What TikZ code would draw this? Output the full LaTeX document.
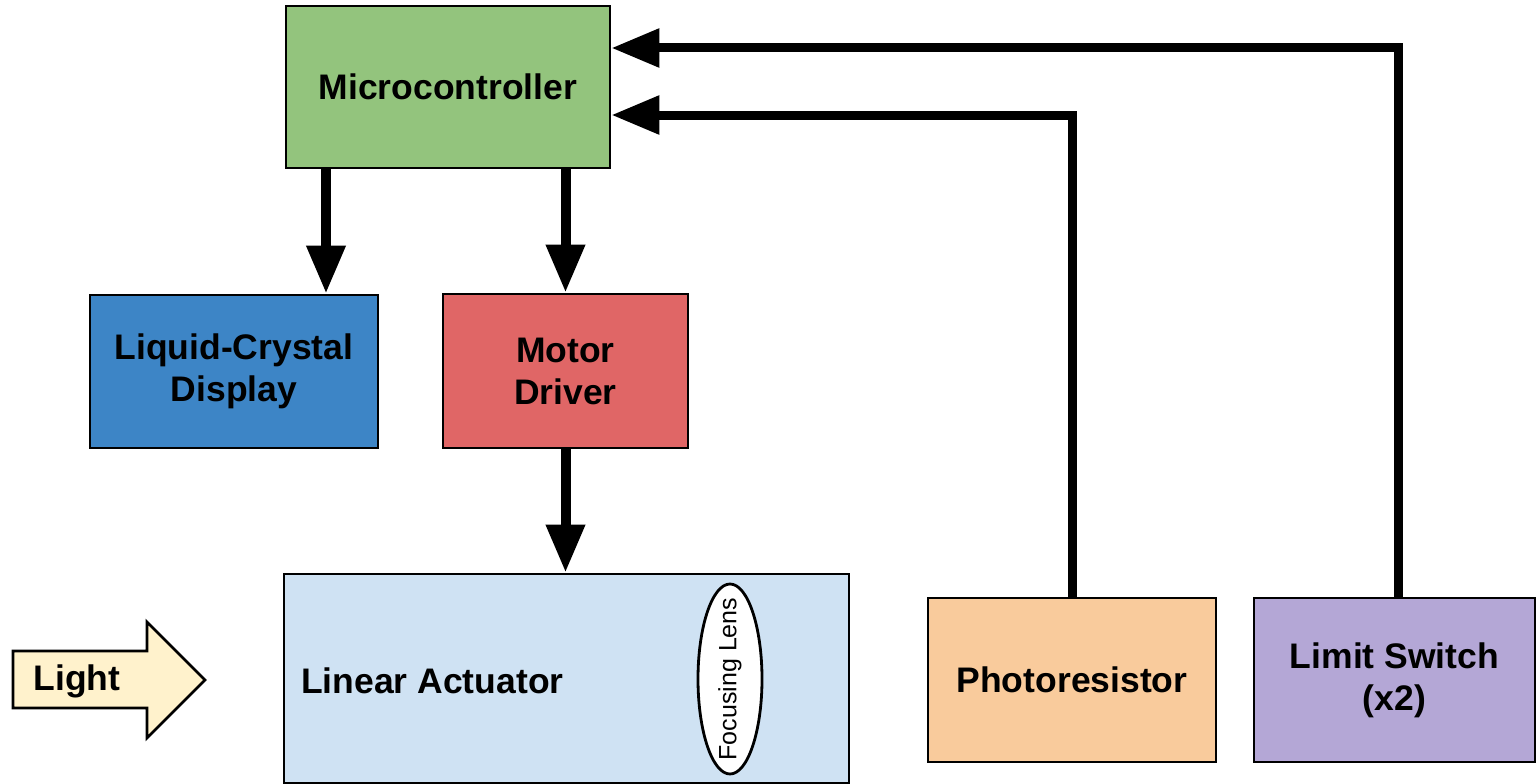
\documentclass[tikz,border=0pt]{standalone}
\usepackage{fontspec}
\setmainfont{Liberation Sans}
\usetikzlibrary{arrows.meta,shapes.geometric}
\definecolor{mcgreen}{HTML}{93C47D}
\definecolor{lcdblue}{HTML}{3D85C6}
\definecolor{mdred}{HTML}{E06666}
\definecolor{lablue}{HTML}{CFE2F3}
\definecolor{phorange}{HTML}{F9CB9C}
\definecolor{lspurple}{HTML}{B4A7D6}
\definecolor{lightyellow}{HTML}{FFF2CC}
\begin{document}
\begin{tikzpicture}[x=1pt,y=-1pt,
  bigfont/.style={font=\fontsize{35.5}{42}\selectfont\bfseries},
  blockbox/.style={draw=black,line width=2.8pt,rectangle,inner sep=0pt,align=center,bigfont},
  bigarrow/.style={line width=10pt,-{Triangle[width=37pt,length=48pt]}},
  fbarrow/.style={line width=9pt,-{Triangle[width=37pt,length=48pt]}}
]
\useasboundingbox[fill=white] (0,0) rectangle (1536,784);
\node[blockbox,fill=mcgreen,minimum width=324pt,minimum height=162pt] (mc) at (448,87) {Microcontroller};
\node[blockbox,fill=lcdblue,minimum width=288pt,minimum height=153pt] (lcd) at (234,371.5) {Liquid-Crystal\\Display};
\node[blockbox,fill=mdred,minimum width=245pt,minimum height=154pt] (md) at (565.5,371) {Motor\\Driver};
\node[blockbox,fill=lablue,minimum width=565pt,minimum height=209pt] (la) at (566.5,678.5) {};
\node[anchor=west,inner sep=0pt,bigfont] (latext) at (301,681) {Linear Actuator};
\node[draw=black,line width=2.8pt,fill=white,ellipse,inner sep=0pt,minimum width=64pt,minimum height=190pt] (lens) at (730,679) {};
\node[rotate=90,inner sep=0pt,font=\fontsize{25}{28}\selectfont] (lenstext) at (lens.center) {Focusing Lens};
\node[blockbox,fill=phorange,minimum width=288pt,minimum height=164pt] (ph) at (1072,680) {Photoresistor};
\node[blockbox,fill=lspurple,minimum width=281pt,minimum height=164pt] (ls) at (1394.5,680) {Limit Switch\\(x2)};
% light arrow
\draw[line width=2.8pt,fill=lightyellow,line join=miter]
  (13,651) -- (147,651) -- (147,622) -- (205,680) -- (147,738) -- (147,708) -- (13,708) -- cycle;
\node[inner sep=0pt,bigfont] (light) at (77,681) {Light};
% connectors
\draw[bigarrow] (mc.south -| 326,0) -- (lcd.north -| 326,0);
\draw[bigarrow] (mc.south -| md.north) -- (md.north);
\draw[bigarrow] (md.south) -- (md.south |- la.north);
\draw[fbarrow] (ph.north) |- (mc.east |- 0,115);
\draw[fbarrow] (ls.north -| 1398,0) |- (mc.east |- 0,48);
\end{tikzpicture}
\end{document}
